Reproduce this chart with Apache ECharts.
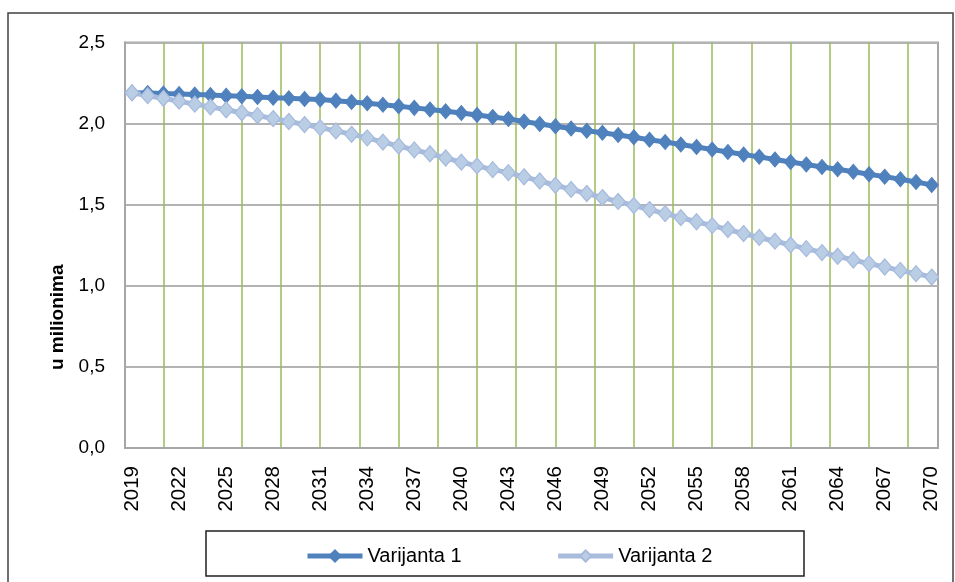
<!DOCTYPE html>
<html>
<head>
<meta charset="utf-8">
<script src="https://cdn.jsdelivr.net/npm/echarts@6/dist/echarts.min.js"></script>
<style>
html,body{margin:0;padding:0;background:#fff;}
#c{width:955px;height:582px;}
</style>
</head>
<body>
<div id="c"></div>
<script>
const years = [2019,2020,2021,2022,2023,2024,2025,2026,2027,2028,2029,2030,2031,2032,2033,2034,2035,2036,2037,2038,2039,2040,2041,2042,2043,2044,2045,2046,2047,2048,2049,2050,2051,2052,2053,2054,2055,2056,2057,2058,2059,2060,2061,2062,2063,2064,2065,2066,2067,2068,2069,2070];
const varijanta1 = [2.190,2.188,2.185,2.182,2.179,2.176,2.172,2.168,2.164,2.160,2.156,2.152,2.148,2.141,2.133,2.125,2.116,2.107,2.097,2.087,2.076,2.065,2.053,2.041,2.028,2.013,1.998,1.984,1.970,1.956,1.943,1.930,1.916,1.901,1.886,1.871,1.856,1.840,1.825,1.810,1.795,1.779,1.763,1.748,1.733,1.718,1.703,1.688,1.673,1.657,1.640,1.622];
const varijanta2 = [2.190,2.172,2.156,2.138,2.120,2.103,2.085,2.067,2.049,2.031,2.013,1.994,1.975,1.955,1.934,1.912,1.886,1.862,1.838,1.814,1.788,1.762,1.739,1.716,1.698,1.672,1.646,1.620,1.594,1.569,1.544,1.520,1.495,1.470,1.445,1.420,1.395,1.371,1.347,1.322,1.298,1.275,1.252,1.229,1.205,1.182,1.159,1.137,1.116,1.095,1.075,1.054];
const xTickLabels = [2019,2022,2025,2028,2031,2034,2037,2040,2043,2046,2049,2052,2055,2058,2061,2064,2067,2070];
const xGridYears = [2021,2023.5,2026,2028.5,2031,2033.5,2036,2038.5,2041,2043.5,2046,2048.5,2051,2053.5,2056,2058.5,2061,2063.5,2066,2068.5];
const seriesNames = ['Varijanta 1','Varijanta 2'];
const yAxisTitle = 'u milionima';

const FONT = "'Liberation Sans',Arial,sans-serif";
const chart = echarts.init(document.getElementById('c'));
const xMin = 2018.55, xMax = 2070.4;
chart.setOption({
  animation: false,
  textStyle: {fontFamily: FONT},
  graphic: [
    {type:'rect', shape:{x:8, y:13, width:945, height:600}, style:{fill:'none', stroke:'#404040', lineWidth:1.5}, z:-1},
    {type:'rect', shape:{x:206, y:531, width:598, height:45}, style:{fill:'none', stroke:'#202020', lineWidth:1.5}, z:-1}
  ],
  grid: {left:125, right:17, top:42.5, bottom:134, show:true, borderColor:'#a6a6a6', borderWidth:2, backgroundColor:'transparent'},
  legend: {
    data: seriesNames, left:300, top:541, itemWidth:55, itemHeight:14, itemGap:94,
    lineStyle:{width:5},
    textStyle:{fontFamily:FONT, fontSize:20, color:'#000'}
  },
  xAxis: [
    {type:'value', min:xMin, max:xMax,
     axisLine:{show:true, lineStyle:{color:'#a6a6a6', width:2}},
     axisTick:{show:false},
     splitLine:{show:false},
     axisLabel:{customValues:xTickLabels, rotate:90, margin:18, fontSize:20.5, color:'#000', fontFamily:FONT, formatter: v => String(v)}
    },
    {type:'value', min:xMin, max:xMax, position:'bottom', show:true,
     axisLine:{show:false}, axisLabel:{show:false},
     axisTick:{show:false, customValues:xGridYears},
     splitLine:{show:true, lineStyle:{color:'#9bbb59', width:1.5}}
    }
  ],
  yAxis: {
    type:'value', min:0, max:2.5, interval:0.5,
    name:yAxisTitle, nameLocation:'middle', nameRotate:90, nameGap:54,
    nameTextStyle:{fontFamily:FONT, fontSize:19, fontWeight:'bold', color:'#000', padding:[0,144,0,0]},
    axisLine:{show:true, lineStyle:{color:'#a6a6a6', width:2}},
    axisTick:{show:false},
    axisLabel:{margin:20, fontSize:19, color:'#000', fontFamily:FONT, formatter: v => v.toFixed(1).replace('.', ',')},
    splitLine:{show:true, lineStyle:{color:'#b3b3b3', width:2}}
  },
  series: [
    {name:seriesNames[0], type:'line', xAxisIndex:0, data: years.map((y,i)=>[y, varijanta1[i]]),
     symbol:'diamond', symbolSize:[13,15], showAllSymbol:true,
     lineStyle:{color:'#4f81bd', width:5}, itemStyle:{color:'#4f81bd', borderColor:'#4f81bd', borderWidth:1}},
    {name:seriesNames[1], type:'line', xAxisIndex:0, data: years.map((y,i)=>[y, varijanta2[i]]),
     symbol:'diamond', symbolSize:[14,16], showAllSymbol:true,
     lineStyle:{color:'#a9bcdd', width:5}, itemStyle:{color:'#b9cde5', borderColor:'#a6badc', borderWidth:1.2}}
  ]
});
</script>
</body>
</html>
